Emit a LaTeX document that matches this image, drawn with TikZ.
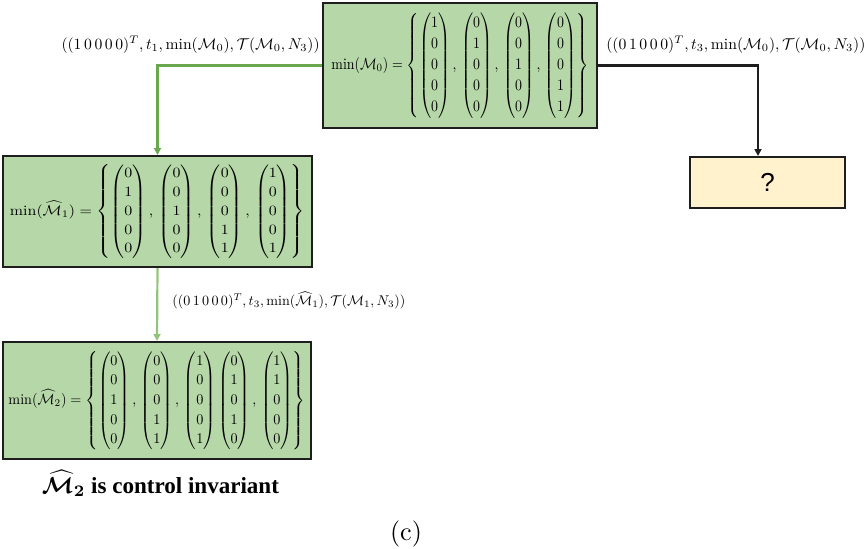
\documentclass[tikz,border=0pt]{standalone}
\usepackage{amsmath}
\usepackage{fontspec}
\newfontfamily\capfont{Liberation Serif}
\newfontfamily\qfont{Liberation Sans}
\usetikzlibrary{arrows.meta}
\definecolor{boxgreen}{HTML}{B6D7A8}
\definecolor{boxyellow}{HTML}{FFF2CC}
\definecolor{edgegreen}{HTML}{6AA84F}
\definecolor{edgelight}{HTML}{93C47D}
\definecolor{rim}{HTML}{1E1E1E}
% a column vector of five entries
\newcommand{\colv}[5]{{\renewcommand{\arraystretch}{1.1}\begin{pmatrix}#1\\#2\\#3\\#4\\#5\end{pmatrix}}}
\newcommand{\vsep}{\,,\,}
\begin{document}
\begin{tikzpicture}[x=0.5pt,y=-0.5pt,
  markbox/.style={draw=rim,line width=1pt,fill=boxgreen,inner sep=0pt},
  askbox/.style={draw=rim,line width=1pt,fill=boxyellow,inner sep=0pt},
  lbl/.style={inner sep=0pt},
  link/.style={line width=1.1pt,-{Triangle[length=3.5pt,width=3.5pt]}}]
\useasboundingbox (0,0) rectangle (867,548);

% marking boxes
\node[markbox,minimum width=137pt,minimum height=62.5pt] (m0) at (460,65.5)
  {\resizebox*{128.5pt}{52.5pt}{$\min(\mathcal{M}_0)=\left\{\colv10000\vsep\colv01000\vsep\colv00100\vsep\colv00011\right\}$}};
\node[markbox,minimum width=154.5pt,minimum height=55.5pt] (m1) at (157.5,211.5)
  {\resizebox*{147.5pt}{47pt}{$\min(\widehat{\mathcal{M}}_1)=\left\{\colv01000\vsep\colv00100\vsep\colv00011\vsep\colv10001\right\}$}};
\node[markbox,minimum width=154pt,minimum height=58.5pt] (m2) at (157,400.5)
  {\resizebox*{148.5pt}{49pt}{$\min(\widehat{\mathcal{M}}_2)=\left\{\colv00100\vsep\colv00011\vsep\colv10001\,\colv01010\vsep\colv11000\right\}$}};
\node[askbox,minimum width=77.5pt,minimum height=25.5pt] (q) at (767.5,182.5)
  {\fontsize{13pt}{15pt}\qfont ?};

% transitions
\draw[link,edgegreen] (m0.west) -| (m1.north);
\draw[link,edgelight] (m1.south) -- (m2.north);
\draw[link,rim] (m0.east) -| ([xshift=-4.75pt]q.north);

% transition labels
\node[lbl,anchor=east] (l1) at (320,44.5)
  {\resizebox{129pt}{!}{$((1\,0\,0\,0\,0)^T,t_1,\min(\mathcal{M}_0),\mathcal{T}(\mathcal{M}_0,N_3))$}};
\node[lbl,anchor=west] (l2) at (606,44.5)
  {\resizebox{129.5pt}{!}{$((0\,1\,0\,0\,0)^T,t_3,\min(\mathcal{M}_0),\mathcal{T}(\mathcal{M}_0,N_3))$}};
\node[lbl,anchor=west] (l3) at (172,300.5)
  {\resizebox{116.5pt}{!}{$((0\,1\,0\,0\,0)^T,t_3,\min(\widehat{\mathcal{M}}_1),\mathcal{T}(\mathcal{M}_1,N_3))$}};

% conclusion and sub-caption
\node[lbl] (cap) at (160.5,483.5)
  {\resizebox{118.5pt}{!}{\capfont\bfseries $\boldsymbol{\widehat{\mathcal{M}}_2}$ is control invariant}};
\node[lbl] (sub) at (406,534)
  {\resizebox{16pt}{!}{(c)}};
\end{tikzpicture}
\end{document}
